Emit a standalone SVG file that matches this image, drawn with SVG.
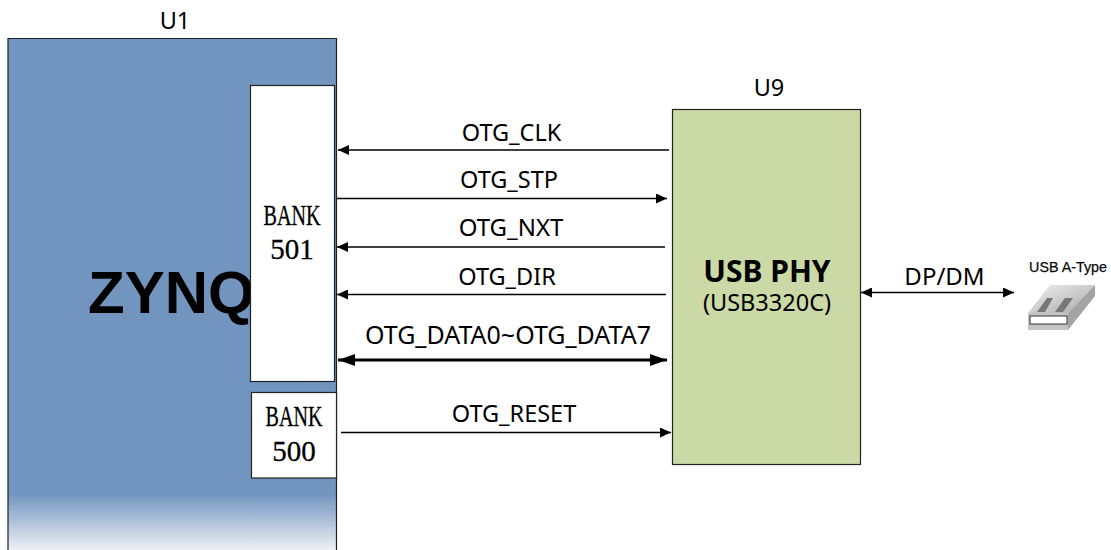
<svg xmlns="http://www.w3.org/2000/svg" width="1111" height="550" viewBox="0 0 1111 550">
<style>
text{font-family:"Noto Sans","Open Sans",sans-serif;fill:#000}
.l{font-size:23.500px;text-anchor:middle}
.b{font-family:"Liberation Serif",serif;font-size:29px;text-anchor:middle;stroke:#000;stroke-width:.3}
.c{stroke:#000;stroke-width:1.600;fill:none}
.t{stroke:#000;stroke-width:3;fill:none}
</style>
<defs>
<linearGradient id="g" x1="0" y1="0" x2="0" y2="1"><stop offset="0" stop-color="#7295c0"/><stop offset="0.89" stop-color="#7295c0"/><stop offset="1" stop-color="#eef1f5"/></linearGradient>
<linearGradient id="us" x1="0" y1="0" x2="1" y2="1"><stop offset="0" stop-color="#f0f0f0"/><stop offset="1" stop-color="#a8a8a8"/></linearGradient>
<marker id="a" markerUnits="userSpaceOnUse" markerWidth="12" markerHeight="10" refX="11" refY="5" orient="auto-start-reverse"><path d="M0 0L11 5L0 10Z" fill="#000"/></marker>
<marker id="h" markerUnits="userSpaceOnUse" markerWidth="18" markerHeight="12" refX="17" refY="6" orient="auto-start-reverse"><path d="M0 0L17 6L0 12Z" fill="#000"/></marker>
</defs>
<g id="u1">
<rect x="8" y="38.500" width="328" height="512" fill="url(#g)"/>
<path d="M8 550V38.500H336.500V550" fill="none" stroke="#222" stroke-width="1.200"/>
<text x="175" y="29" class="l">U1</text>
<text x="88" y="313" font-size="60" font-weight="700" style="font-family:'Liberation Sans',sans-serif">ZYNQ</text>
</g>
<g id="bank501">
<rect x="250.500" y="85.500" width="84" height="296" fill="#fff" stroke="#222" stroke-width="1.200"/>
<text class="b" x="292" y="225" textLength="57" lengthAdjust="spacingAndGlyphs">BANK</text><text class="b" x="292" y="259">501</text>
</g>
<g id="bank500">
<rect x="251.500" y="392.500" width="85" height="85.500" fill="#fff" stroke="#222" stroke-width="1.200"/>
<text class="b" x="294" y="426" textLength="57" lengthAdjust="spacingAndGlyphs">BANK</text><text class="b" x="294" y="461">500</text>
</g>
<g id="u9">
<rect x="672.500" y="109.500" width="188" height="355" fill="#cbd9a6" stroke="#222" stroke-width="1.200"/>
<text x="769" y="96" class="l">U9</text>
<text x="767" y="282" text-anchor="middle" font-size="30" font-weight="700">USB PHY</text>
<text x="767" y="311" class="l">(USB3320C)</text>
</g>
<g id="usb">
<text x="1068" y="272" text-anchor="middle" font-size="14.300" style="font-family:'Liberation Sans',sans-serif;stroke:#222;stroke-width:.25">USB A-Type</text>
<path d="M1028 313L1050 285H1095L1068 313Z" fill="url(#us)"/>
<path d="M1068 313L1095 285V296L1068 330Z" fill="#a3a3a3"/>
<rect x="1028" y="313" width="40" height="17" fill="#c4c4c4"/>
<rect x="1030" y="316" width="37" height="8" fill="#fff" stroke="#333"/>
<path d="M1037 312L1047 298H1053L1045 312ZM1055 312L1065 298H1073L1063 312Z" fill="#777"/>
</g>
<g id="connectors">
<path class="c" d="M669 150H338" marker-end="url(#a)"/>
<path class="c" d="M337 198.500H667" marker-end="url(#a)"/>
<path class="c" d="M665 247H337" marker-end="url(#a)"/>
<path class="c" d="M666 294.500H337" marker-end="url(#a)"/>
<path class="t" d="M338 360H667" marker-start="url(#h)" marker-end="url(#h)"/>
<path class="c" d="M341 432.500H671" marker-end="url(#a)"/>
<path class="c" d="M861 292.500H1014" marker-start="url(#a)" marker-end="url(#a)"/>
<text x="511.500" y="141" class="l">OTG_CLK</text>
<text x="509" y="188" class="l">OTG_STP</text>
<text x="511" y="236" class="l" style="font-size:24px">OTG_NXT</text>
<text x="507" y="285" class="l">OTG_DIR</text>
<text x="508" y="344" class="l" style="font-size:25px">OTG_DATA0~OTG_DATA7</text>
<text x="514" y="422" class="l">OTG_RESET</text>
<text x="944.500" y="285" class="l" style="font-size:24px">DP/DM</text>
</g>
</svg>
